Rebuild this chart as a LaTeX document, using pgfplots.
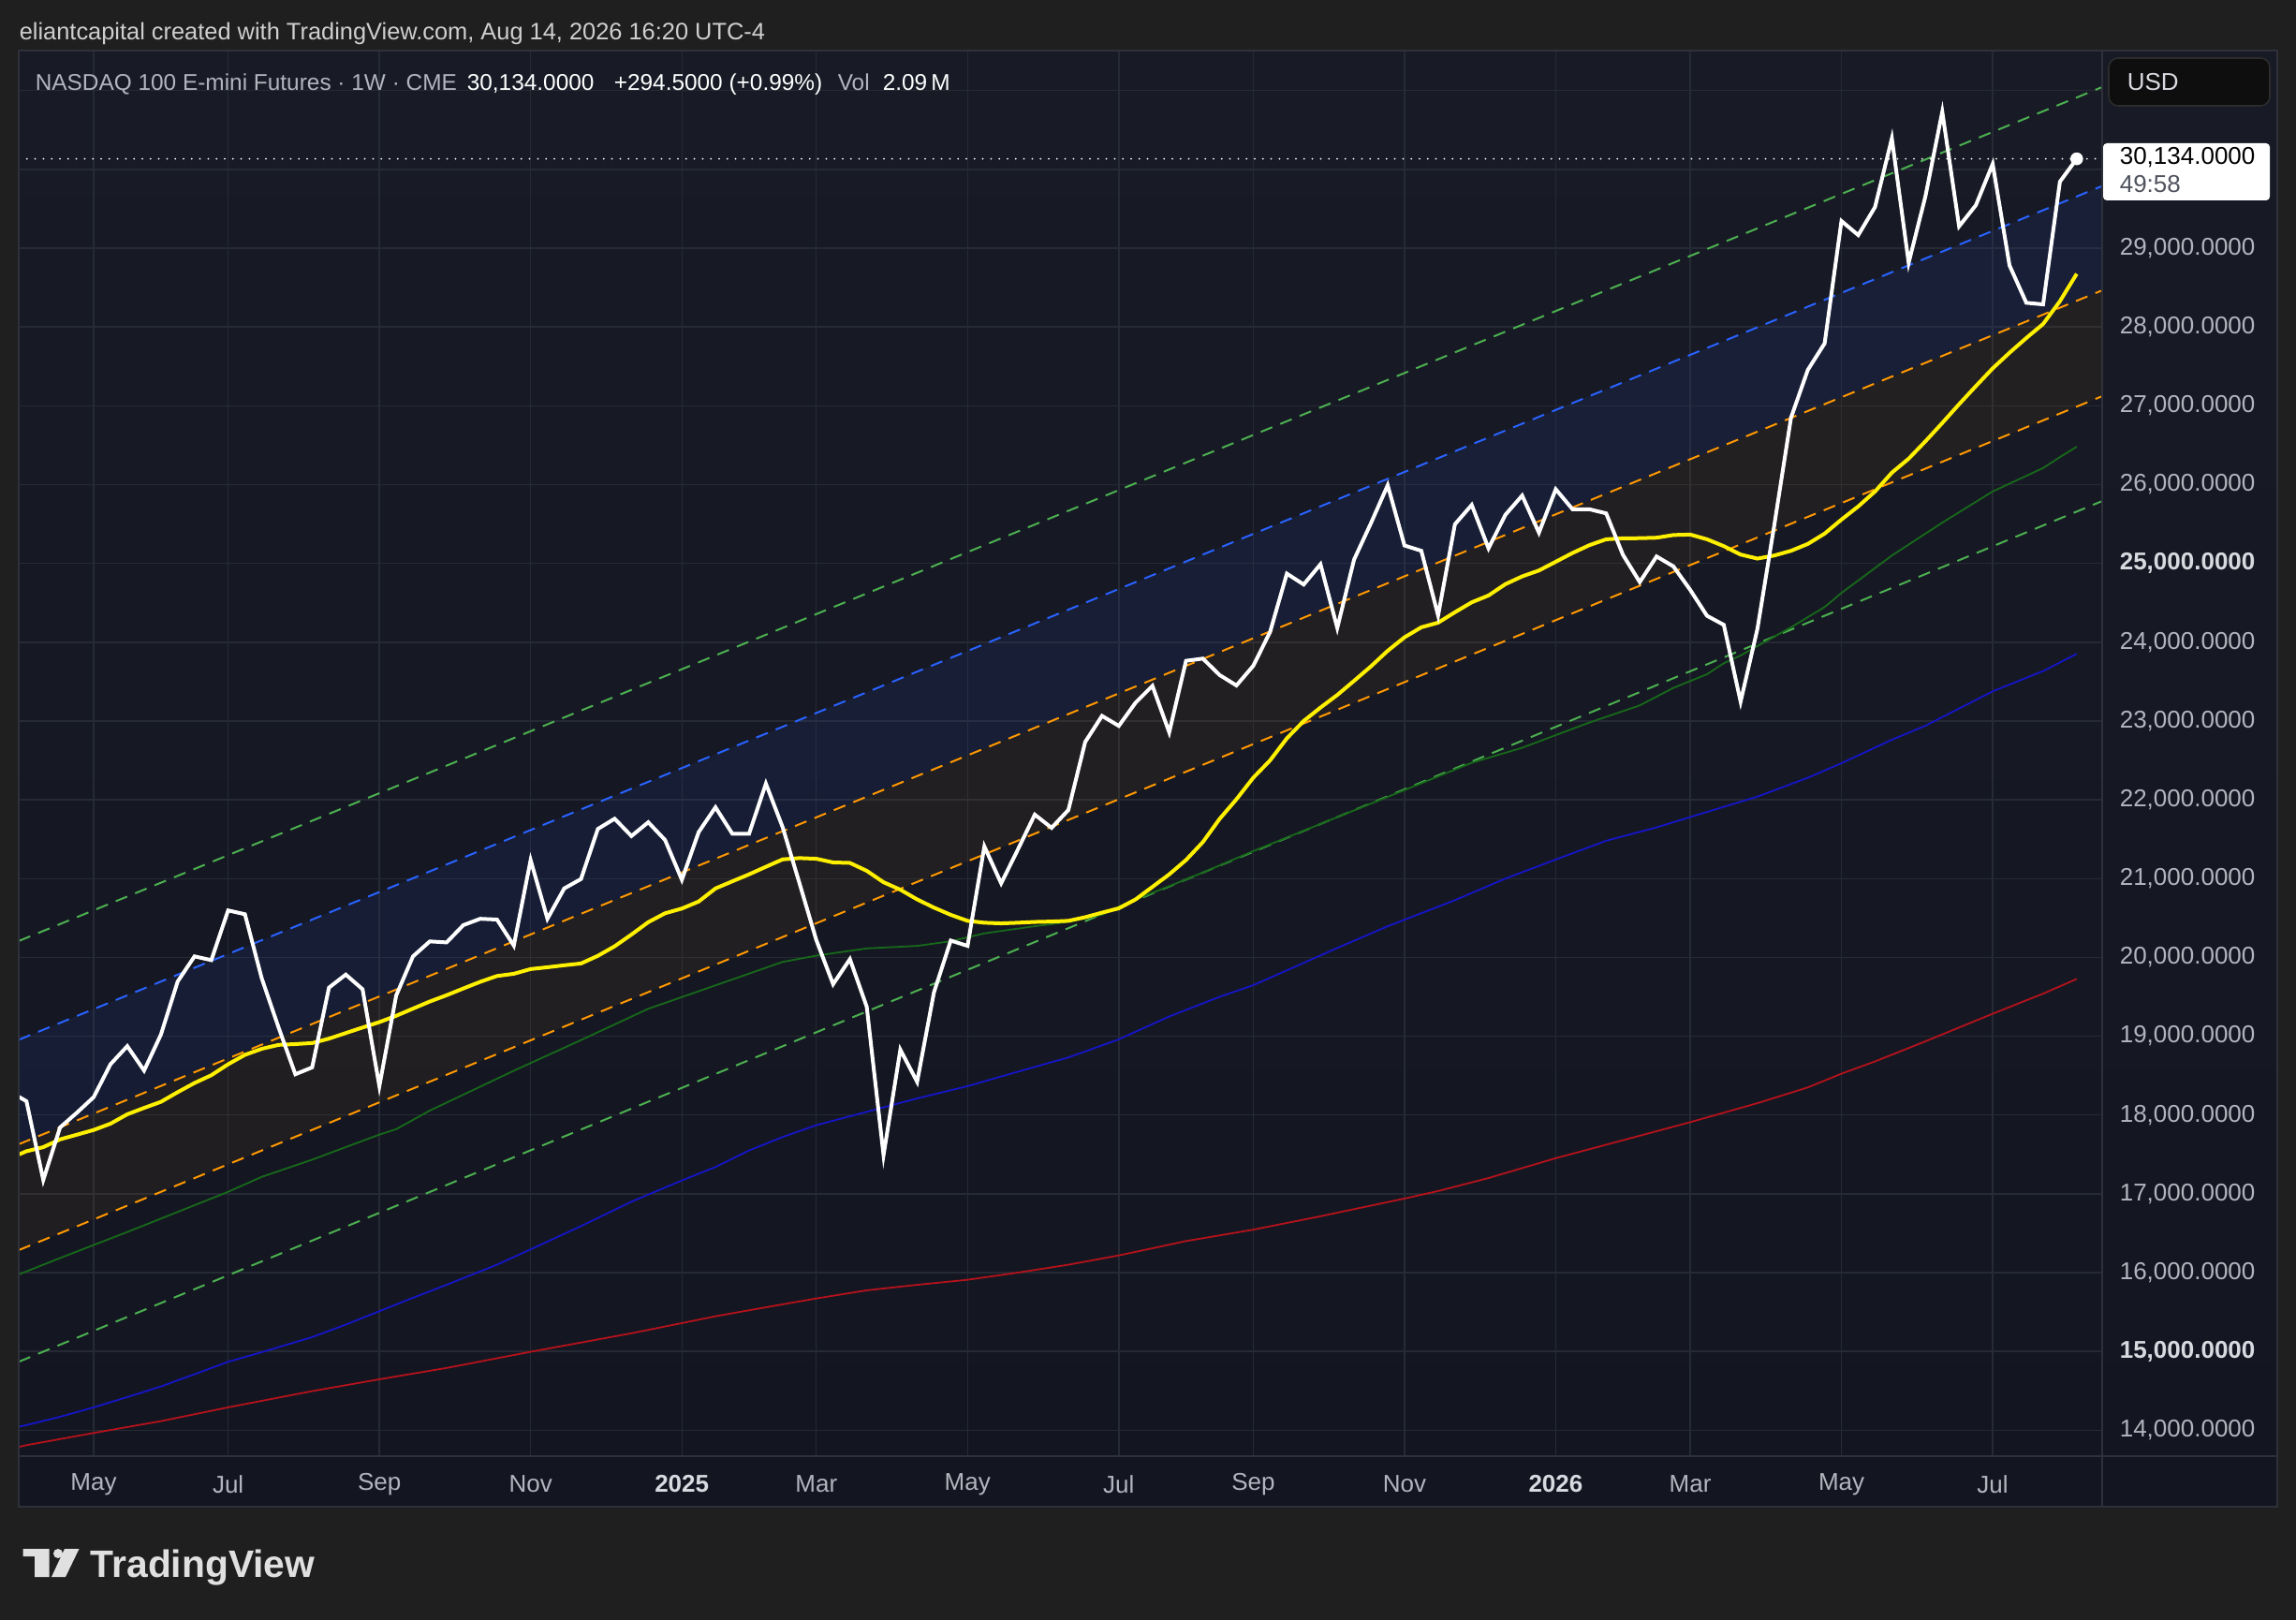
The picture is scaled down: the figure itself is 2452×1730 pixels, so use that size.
\documentclass[border=0pt]{standalone}
\usepackage{fontspec}
\setmainfont{Liberation Sans}
\usepackage{pgfplots}
\pgfplotsset{compat=1.18}
\definecolor{outerbg}{HTML}{1F1F1F}
\definecolor{bgtop}{HTML}{181B26}
\definecolor{bgbot}{HTML}{131621}
\definecolor{gridc}{HTML}{262A34}
\definecolor{sepc}{HTML}{2E313A}
\definecolor{hdr}{HTML}{CFCFCF}
\definecolor{legg}{HTML}{B2B5BE}
\definecolor{tickc}{HTML}{B2B5BE}
\definecolor{tickb}{HTML}{D8DAE0}
\definecolor{chgreen}{HTML}{4CAF50}
\definecolor{chblue}{HTML}{2962FF}
\definecolor{chorange}{HTML}{FF9800}
\definecolor{mayellow}{HTML}{FFF000}
\definecolor{madgreen}{HTML}{17691A}
\definecolor{mablue}{HTML}{1515C8}
\definecolor{mared}{HTML}{B5121B}
\definecolor{usdbg}{HTML}{0E0E0E}
\definecolor{usdbd}{HTML}{2C2C2C}
\definecolor{timerc}{HTML}{50535E}
\definecolor{logoc}{HTML}{E0E0E0}
\newcommand\tvleg{\fontsize{6.1}{7}\selectfont}
\newcommand\tvhdr{\fontsize{6.35}{7.3}\selectfont}
\newcommand\tvtick{\fontsize{6.5}{7.5}\selectfont}
\begin{document}
\begin{tikzpicture}
\begin{scope}[x=0.25pt,y=-0.25pt]
\fill[outerbg] (0,0) rectangle (2452,1730);
\shade[top color=bgtop, bottom color=bgbot] (20,54) rectangle (2432,1609);
\end{scope}
\begin{axis}[
  at={(5pt,-388.75pt)}, anchor=south west, scale only axis,
  width=556pt, height=375.25pt,
  xmin=-0.46, xmax=123.46, ymin=13671, ymax=31508,
  scaled x ticks=false, scaled y ticks=false,
  axis line style={draw=none},
  major tick length=0pt,
  grid=major, major grid style={gridc, line width=0.35pt},
  xtick={4,12,21,30,39,47,56,65,73,82,91,99,108,117},
  xticklabels={May,Jul,Sep,Nov,{\bfseries\color{tickb}2025},Mar,May,Jul,Sep,Nov,{\bfseries\color{tickb}2026},Mar,May,Jul},
  xticklabel style={anchor=center, yshift=-7.5pt, font=\tvtick, text=tickc},
  ytick={14000,15000,...,31000},
  yticklabels={{14,000.0000},{\bfseries\color{tickb}15,000.0000},{16,000.0000},{17,000.0000},{18,000.0000},{19,000.0000},{20,000.0000},{21,000.0000},{22,000.0000},{23,000.0000},{24,000.0000},{\bfseries\color{tickb}25,000.0000},{26,000.0000},{27,000.0000},{28,000.0000},{29,000.0000},{},{}},
  yticklabel pos=right,
  yticklabel style={anchor=west, inner sep=0pt, xshift=4.75pt, font=\tvtick, text=tickc},
]
% channel bands
\addplot[draw=none, fill=chblue, fill opacity=0.08] coordinates {(-0.46,18954) (123.46,29784) (123.46,28460) (-0.46,17629)} -- cycle;
\addplot[draw=none, fill=chorange, fill opacity=0.055] coordinates {(-0.46,17629) (123.46,28460) (123.46,27117) (-0.46,16285)} -- cycle;
% channel lines
\addplot[chgreen, line width=0.5pt, dash pattern=on 3.3pt off 2.3pt] coordinates {(-0.46,20208) (123.46,31040)};
\addplot[chblue, line width=0.5pt, dash pattern=on 3.3pt off 2.3pt] coordinates {(-0.46,18954) (123.46,29784)};
\addplot[chorange, line width=0.5pt, dash pattern=on 3.3pt off 2.3pt] coordinates {(-0.46,17629) (123.46,28460)};
\addplot[chorange, line width=0.5pt, dash pattern=on 3.3pt off 2.3pt] coordinates {(-0.46,16285) (123.46,27117)};
\addplot[chgreen, line width=0.5pt, dash pattern=on 3.3pt off 2.3pt] coordinates {(-0.46,14868) (123.46,25786)};
% red MA
\addplot[mared, line width=0.45pt] table {
-1 13760
0 13810
4 13965
8 14115
12 14290
17 14496
21 14646
25 14790
30 14995
36 15230
39 15359
41 15446
44 15560
47 15672
50 15775
53 15845
56 15909
59 16000
62 16100
65 16218
69 16400
73 16545
77 16715
82 16940
84 17035
87 17200
91 17452
95 17680
99 17909
103 18150
106 18350
108 18524
110 18680
113 18935
117 19285
120 19540
122 19726
};
% blue MA
\addplot[mablue, line width=0.45pt] table {
-1 14020
0 14065
2 14170
4 14290
6 14420
8 14555
10 14710
12 14868
14 14990
17 15181
19 15340
21 15510
23 15680
25 15845
28 16100
30 16295
33 16590
36 16900
39 17169
41 17340
43 17550
45 17721
47 17871
50 18040
53 18210
56 18366
59 18550
62 18730
65 18960
68 19250
71 19500
73 19647
76 19930
78 20120
81 20395
85 20726
88 21000
91 21242
94 21480
97 21650
100 21846
103 22040
106 22280
108 22464
111 22762
113 22940
117 23376
120 23634
122 23852
};
% dark green MA
\addplot[madgreen, line width=0.45pt] table {
-1 15930
0 16015
2 16185
4 16350
6 16515
8 16685
10 16855
12 17025
14 17215
17 17433
18 17513
21 17751
22 17820
24 18056
25 18157
29 18562
33 18951
37 19348
41 19645
45 19943
47 20022
50 20114
53 20146
55 20205
57 20305
60 20396
62 20450
64 20541
65 20645
66 20736
68 20904
70 21077
73 21349
78 21780
82 22123
86 22470
89 22660
91 22821
93 22980
96 23198
98 23420
100 23594
101 23733
102 23832
104 24070
105 24189
107 24446
108 24625
111 25100
113 25378
114 25517
117 25913
118 26012
120 26210
121 26349
122 26480
};
% yellow MA
\addplot[mayellow, line width=1pt] table {
-1 17450
0 17540
1 17592
2 17691
3 17750
4 17810
5 17890
6 18009
7 18090
8 18167
9 18290
10 18406
11 18505
12 18644
13 18763
14 18840
15 18890
16 18900
17 18913
18 18969
19 19040
20 19110
21 19179
22 19259
23 19350
24 19440
25 19520
26 19606
27 19690
28 19764
29 19792
30 19852
31 19875
32 19900
33 19923
34 20020
35 20141
36 20290
37 20447
38 20560
39 20620
40 20709
41 20875
42 20965
43 21054
44 21150
45 21244
46 21260
47 21252
48 21205
49 21199
50 21099
51 20954
52 20859
53 20736
54 20632
55 20540
56 20464
57 20440
58 20432
59 20440
60 20450
61 20455
62 20464
63 20510
64 20568
65 20623
66 20736
67 20895
68 21054
69 21236
70 21463
71 21758
72 22007
73 22280
74 22500
75 22780
76 23000
77 23170
78 23330
79 23510
80 23693
81 23891
82 24062
83 24189
84 24248
85 24380
86 24506
87 24593
88 24736
89 24835
90 24910
91 25021
92 25132
93 25231
94 25306
95 25318
96 25320
97 25326
98 25360
99 25366
100 25306
101 25219
102 25112
103 25061
104 25100
105 25160
106 25247
107 25378
108 25556
109 25723
110 25913
111 26151
112 26329
113 26550
114 26782
115 27020
116 27250
117 27475
118 27673
119 27860
120 28038
121 28327
122 28675
};
% price
\addplot[white, line width=1pt, line join=miter] table {
-1 18297
0 18175
1 17175
2 17842
3 18029
4 18227
5 18644
6 18874
7 18564
8 19020
9 19695
10 20013
11 19965
12 20596
13 20548
14 19735
15 19112
16 18517
17 18604
18 19616
19 19782
20 19596
21 18366
22 19516
23 20013
24 20203
25 20190
26 20410
27 20490
28 20480
29 20150
30 21235
31 20490
32 20875
33 20995
34 21630
35 21760
36 21540
37 21715
38 21490
39 20985
40 21590
41 21905
42 21570
43 21570
44 22205
45 21650
46 20940
47 20220
48 19660
49 19978
50 19374
51 17490
52 18829
53 18421
54 19556
55 20214
56 20146
57 21408
58 20940
59 21372
60 21812
61 21644
62 21871
63 22734
64 23065
65 22938
66 23233
67 23446
68 22856
69 23764
70 23792
71 23583
72 23451
73 23700
74 24129
75 24870
76 24732
77 24989
78 24181
79 25049
80 25509
81 25992
82 25227
83 25160
84 24339
85 25497
86 25742
87 25191
88 25616
89 25861
90 25390
91 25941
92 25687
93 25687
94 25635
95 25108
96 24763
97 25088
98 24962
99 24664
100 24335
101 24220
102 23245
103 24169
104 25480
105 26850
106 27456
107 27792
108 29345
109 29166
110 29523
111 30394
112 28814
113 29661
114 30731
115 29277
116 29546
117 30069
118 28782
119 28307
120 28287
121 29844
122 30134
};
% last price line and marker
\addplot[white, line width=0.5pt, line cap=round, dash pattern=on 0pt off 2.2pt] coordinates {(-0.46,30134) (123.46,30134)};
\addplot[only marks, mark=*, mark size=1.5pt, mark options={fill=white, draw=white}] coordinates {(122,30134)};
\end{axis}
\begin{scope}[x=0.25pt,y=-0.25pt]
\draw[sepc, line width=0.5pt] (2245,54) -- (2245,1609);
\draw[sepc, line width=0.5pt] (20,1555) -- (2432,1555);
\draw[sepc, line width=0.5pt] (20,54) rectangle (2432,1609);
% header
\node[anchor=base west, inner sep=0pt, text=hdr, font=\tvhdr] at (20,43) {eliantcapital created with TradingView.com, Aug 14, 2026 16:20 UTC-4};
\node[anchor=base west, inner sep=0pt, text=legg, font=\tvleg] at (37,97) {NASDAQ 100 E-mini Futures · 1W · CME};
\node[anchor=base west, inner sep=0pt, text=white, font=\tvleg] at (498,97) {30,134.0000};
\node[anchor=base west, inner sep=0pt, text=white, font=\tvleg] at (655,97) {+294.5000 (+0.99\%)};
\node[anchor=base west, inner sep=0pt, text=legg, font=\tvleg] at (894,97) {Vol};
\node[anchor=base west, inner sep=0pt, text=white, font=\tvleg] at (942,97) {2.09\,M};
% USD box
\filldraw[fill=usdbg, draw=usdbd, line width=0.4pt, rounded corners=2.5pt] (2252,62) rectangle (2424,113);
\node[anchor=west, inner sep=0pt, text=tickb, font=\tvtick] at (2271,88) {USD};
% price box
\fill[white, rounded corners=1pt] (2246,153) rectangle (2424,214);
\node[anchor=west, inner sep=0pt, text=black, font=\tvtick] at (2263,168) {30,134.0000};
\node[anchor=west, inner sep=0pt, text=timerc, font=\tvtick] at (2263,197) {49:58};
% logo
\fill[logoc] (24.5,1654) -- (52.6,1654) -- (52.6,1684) -- (37,1684) -- (37,1662) -- (24.5,1662) -- cycle;
\fill[logoc] (62,1659) circle (5);
\fill[logoc] (69,1654) -- (84.5,1654) -- (70,1684) -- (55,1684) -- cycle;
\node[anchor=base west, inner sep=0pt, text=logoc, font=\fontsize{10.2}{12}\selectfont\bfseries] at (96,1684) {TradingView};
\pgfresetboundingbox
\path[use as bounding box] (0,0) rectangle (2452,1730);
\end{scope}
\end{tikzpicture}
\end{document}
